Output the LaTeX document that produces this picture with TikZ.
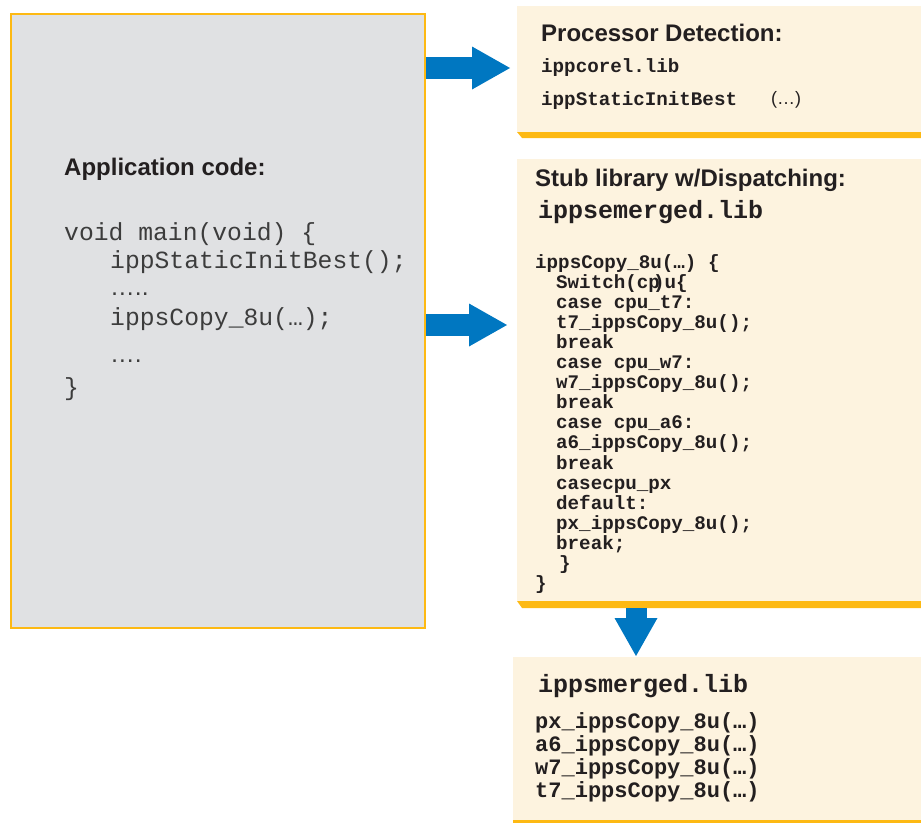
\documentclass[tikz,border=0pt]{standalone}
\usepackage{fontspec}
\setmainfont{Liberation Sans}
\newfontfamily\codefont{Liberation Mono}
\usetikzlibrary{arrows.meta, calc, positioning}

\definecolor{appgray}{HTML}{E0E1E3}
\definecolor{libcream}{HTML}{FDF3DF}
\definecolor{baryellow}{HTML}{FDB913}
\definecolor{flowblue}{HTML}{0077C1}
\definecolor{inkgray}{HTML}{231F20}
\definecolor{codegray}{HTML}{3C3C3C}

\tikzset{
  panel/.style={rectangle, inner sep=0pt, outer sep=0pt, fill=libcream},
  txt/.style={anchor=base west, inner sep=0pt, text=inkgray},
  head/.style={txt, font=\fontsize{24}{28}\selectfont\bfseries},
  appcode/.style={txt, text=codegray, font=\codefont\fontsize{24.7}{28}\selectfont},
  libcode/.style={txt, font=\codefont\bfseries\fontsize{19.2}{22}\selectfont},
  biglib/.style={txt, font=\codefont\bfseries\fontsize{25}{28}\selectfont},
  flow/.style={draw=flowblue, line width=22pt,
    -{Triangle[length=38pt, width=43pt, line width=0pt]}},
}

\begin{document}
\begin{tikzpicture}[x=1pt, y=-1pt]
\useasboundingbox (0,0) rectangle (921,822);

% application code
\node[rectangle, fill=appgray, draw=baryellow, line width=2.5pt, inner sep=0pt, outer sep=0pt,
  minimum width=414pt, minimum height=614pt] (app) at (218,321) {};
\node[head] (apptitle) at (64,175) {Application code:};
\node[appcode] (mainline) at (64,240) {void main(void) \{};
\node[appcode] (initcall) at (110,268) {ippStaticInitBest();};
\node[txt, text=codegray, font=\fontsize{24.7}{28}\selectfont] (gap1) at (110,295) {…..};
\node[appcode] (call) at (110,325) {ippsCopy\_8u(…);};
\node[txt, text=codegray, font=\fontsize{24.7}{28}\selectfont] (gap2) at (110,362) {….};
\node[appcode] (close) at (64,395) {\}};

% processor detection
\node[panel, minimum width=404pt, minimum height=126pt] (proc) at (719,69) {};
\fill[baryellow] (proc.south west) -- (proc.south east) -- ++(0,6)
  -- ($(proc.south west)+(5,6)$) -- cycle;
\node[head] (proctitle) at (541,41) {Processor Detection:};
\node[libcode] (corelib) at (541,72) {ippcorel.lib};
\node[libcode] (initbest) at (541,105) {ippStaticInitBest};
\node[txt, font=\fontsize{18}{20}\selectfont] (initargs) at (771,104) {(…)};

% stub library
\node[panel, minimum width=404pt, minimum height=442pt] (stub) at (719,380) {};
\fill[baryellow] (stub.south west) -- (stub.south east) -- ++(0,7)
  -- ($(stub.south west)+(5,7)$) -- cycle;
\node[head] (stubtitle) at (535,186) {Stub library w/Dispatching:};
\node[biglib] (stublib) at (538,218) {ippsemerged.lib};
\foreach \ind/\txt [count=\k from 0] in {
    0/{ippsCopy\_8u(…) \{},
    21/{Switch(c\rlap{p}\kern0.25em)u\{},
    21/{case cpu\_t7:},
    21/{t7\_ippsCopy\_8u();},
    21/{break},
    21/{case cpu\_w7:},
    21/{w7\_ippsCopy\_8u();},
    21/{break},
    21/{case cpu\_a6:},
    21/{a6\_ippsCopy\_8u();},
    21/{break},
    21/{casecpu\_px},
    21/{default:},
    21/{px\_ippsCopy\_8u();},
    21/{break;},
    24/{\}},
    0/{\}}} {
  \node[libcode] (disp\k) at (535+\ind, 268+20.1*\k) {\txt};
}

% merged library
\node[panel, minimum width=408pt, minimum height=163pt] (merged) at (717,738.5) {};
\fill[baryellow] (merged.south west) rectangle ($(merged.south east)+(0,3)$);
\node[biglib] (mergedlib) at (538,692) {ippsmerged.lib};
\foreach \cpu [count=\k from 0] in {px, a6, w7, t7} {
  \node[txt, font=\codefont\bfseries\fontsize{22}{24}\selectfont] (impl\k)
    at (535, 728+23.3*\k) {\cpu\_ippsCopy\_8u(…)};
}

% arrows
\draw[flow, shorten <=1pt, shorten >=7pt] (app.east |- 0,68) -- (proc.west |- 0,68);
\draw[flow, shorten <=1pt, shorten >=10pt] (app.east |- call.base) -- (stub.west |- call.base);
\draw[flow, line width=21pt, shorten <=7pt, shorten >=1pt] (stub.south -| 636,0) -- (merged.north -| 636,0);
\end{tikzpicture}
\end{document}
